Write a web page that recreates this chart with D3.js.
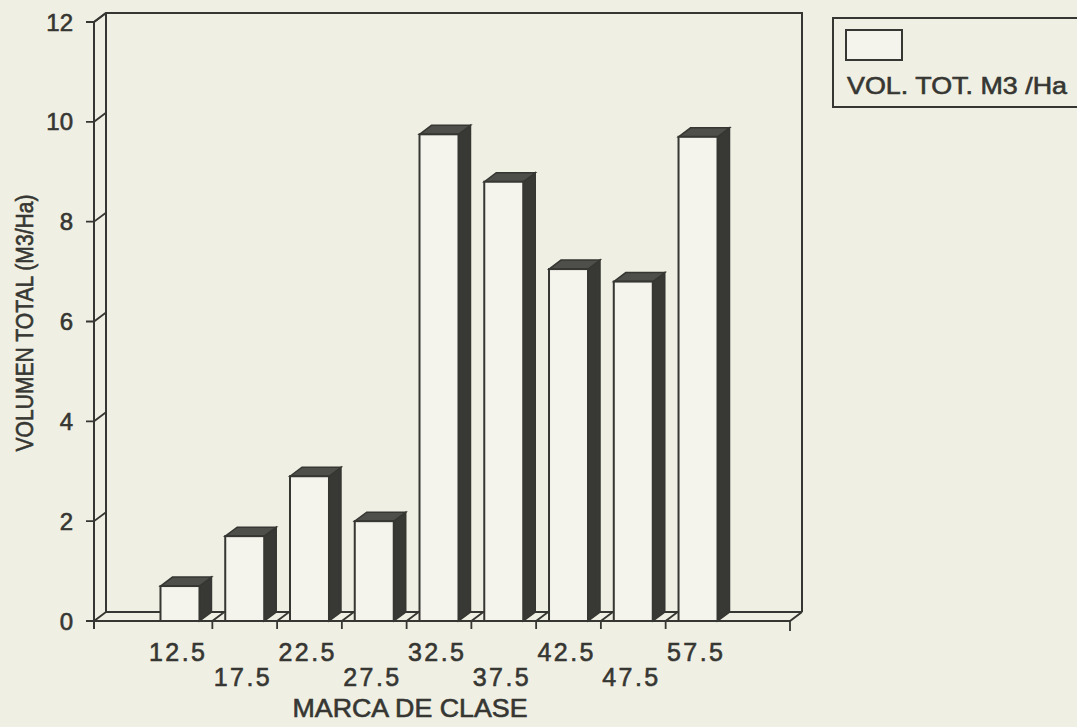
<!DOCTYPE html>
<html>
<head>
<meta charset="utf-8">
<script src="https://cdn.jsdelivr.net/npm/d3@7"></script>
<style>
  body { margin: 0; background: #efefe3; }
  text { font-family: "Liberation Sans", Arial, sans-serif; fill: #363632; stroke: #363632; stroke-width: 0.6px; }
</style>
</head>
<body>
<svg id="chart" width="1077" height="727"></svg>
<script>
// Volume per diameter class
const categories = ["12.5", "17.5", "22.5", "27.5", "32.5", "37.5", "42.5", "47.5", "57.5"];
const volumes = [0.7, 1.7, 2.9, 2.0, 9.75, 8.8, 7.05, 6.8, 9.7];
const yTicks = [0, 2, 4, 6, 8, 10, 12];
const seriesName = "VOL. TOT. M3 /Ha";
const xTitle = "MARCA DE CLASE";
const yTitle = "VOLUMEN TOTAL (M3/Ha)";

const W = 1077, H = 727;
const ink = "#363632", paper = "#efefe3", face = "#f4f4ec", topFace = "#4e4e4a", sideFace = "#383834";
const dx = 12, dy = 9;                     // oblique depth of the 3-D box
const frame = { left: 94, right: 790, bottom: 621, top: 22 };

const svg = d3.select("#chart");
svg.append("rect").attr("width", W).attr("height", H).attr("fill", paper);

const y = d3.scaleLinear().domain([0, 12]).range([frame.bottom, frame.top]);
const x = d3.scaleBand().domain(categories)
  .range([147.6, 730.4]).paddingInner(0.398).paddingOuter(0.199);
const bw = x.bandwidth();
const step = x.step();

const line = (g, pts, w = 2) => g.append("path")
  .attr("d", d3.line()(pts)).attr("fill", "none")
  .attr("stroke", ink).attr("stroke-width", w).attr("stroke-linejoin", "miter");

const frameG = svg.append("g");
// back wall and floor
line(frameG, [[frame.left, y(12)], [frame.left + dx, y(12) - dy], [frame.right + dx, y(12) - dy], [frame.right + dx, frame.bottom - dy]]);
line(frameG, [[frame.left + dx, y(12) - dy], [frame.left + dx, frame.bottom - dy], [frame.right + dx, frame.bottom - dy]]);
// front axis lines
line(frameG, [[frame.left, y(12)], [frame.left, frame.bottom + 8]]);
line(frameG, [[frame.left, frame.bottom], [frame.right, frame.bottom], [frame.right + dx, frame.bottom - dy]]);

// y ticks: stub on the front axis, slant across the side wall
yTicks.forEach(t => {
  line(frameG, [[frame.left - 8, y(t)], [frame.left, y(t)], [frame.left + dx, y(t) - dy]], 1.8);
});
svg.append("g").selectAll("text").data(yTicks).join("text")
  .attr("x", 73).attr("y", d => y(d) + 8.5)
  .attr("text-anchor", "end").attr("font-size", 24)
  .text(d => d);

// x ticks at the boundaries between classes, plus the axis end
const boundaries = categories.slice(1).map(c => x(c) - (step - bw) / 2);
boundaries.forEach(tx => {
  line(frameG, [[tx, frame.bottom + 8], [tx, frame.bottom], [tx + dx, frame.bottom - dy]], 1.8);
});
line(frameG, [[frame.right, frame.bottom], [frame.right, frame.bottom + 10]], 1.8);

// bars
const bars = svg.append("g").selectAll("g").data(categories.map((c, i) => ({ c, v: volumes[i] }))).join("g");
bars.append("path") // side
  .attr("d", d => {
    const x1 = x(d.c) + bw, yt = y(d.v);
    return d3.line()([[x1, yt], [x1 + dx, yt - dy], [x1 + dx, frame.bottom - dy], [x1, frame.bottom]]) + "Z";
  })
  .attr("fill", sideFace).attr("stroke", ink).attr("stroke-width", 1.5);
bars.append("path") // top
  .attr("d", d => {
    const x0 = x(d.c), yt = y(d.v);
    return d3.line()([[x0, yt], [x0 + dx, yt - dy], [x0 + bw + dx, yt - dy], [x0 + bw, yt]]) + "Z";
  })
  .attr("fill", topFace).attr("stroke", ink).attr("stroke-width", 1.5);
bars.append("rect") // front
  .attr("x", d => x(d.c)).attr("y", d => y(d.v))
  .attr("width", bw).attr("height", d => frame.bottom - y(d.v))
  .attr("fill", face).attr("stroke", ink).attr("stroke-width", 2);

// category labels, staggered on two rows
svg.append("g").selectAll("text").data(categories).join("text")
  .attr("x", d => x(d) + bw / 2 - 3)
  .attr("y", (d, i) => i % 2 === 0 ? 661 : 686)
  .attr("text-anchor", "middle").attr("font-size", 25)
  .attr("textLength", 56).attr("lengthAdjust", "spacing")
  .text(d => d);

// axis titles
svg.append("text").attr("x", 410).attr("y", 717)
  .attr("text-anchor", "middle").attr("font-size", 25)
  .attr("textLength", 235).attr("lengthAdjust", "spacingAndGlyphs")
  .text(xTitle);
svg.append("text").attr("transform", "translate(33,323) rotate(-90)")
  .attr("text-anchor", "middle").attr("font-size", 23)
  .attr("textLength", 257).attr("lengthAdjust", "spacingAndGlyphs")
  .text(yTitle);

// legend
const leg = svg.append("g");
leg.append("rect").attr("x", 833).attr("y", 18).attr("width", 270).attr("height", 89)
  .attr("fill", "none").attr("stroke", ink).attr("stroke-width", 2);
leg.append("rect").attr("x", 846).attr("y", 30).attr("width", 56).attr("height", 30)
  .attr("fill", face).attr("stroke", ink).attr("stroke-width", 2);
leg.append("text").attr("x", 847).attr("y", 94).attr("font-size", 24)
  .attr("textLength", 220).attr("lengthAdjust", "spacingAndGlyphs")
  .text(seriesName);
</script>
</body>
</html>
